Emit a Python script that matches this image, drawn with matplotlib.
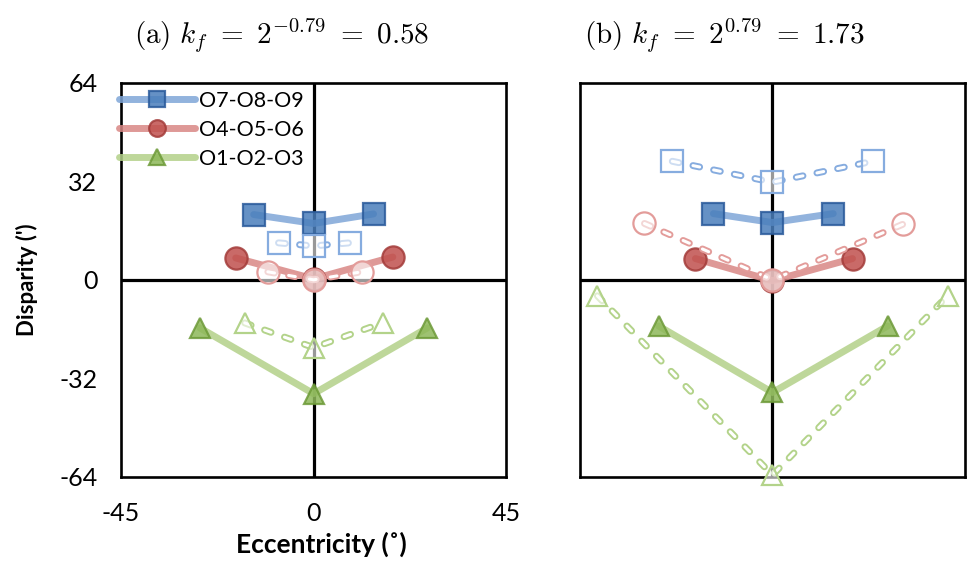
import matplotlib
matplotlib.use('Agg')
import matplotlib.pyplot as plt

plt.rcParams['font.family'] = ['Lato', 'DejaVu Sans']
plt.rcParams['mathtext.fontset'] = 'cm'
plt.rcParams['lines.scale_dashes'] = False
plt.rcParams['axes.unicode_minus'] = False

# eccentricity (deg) / disparity (arcmin)
# panel (a)
a_blue_x = [-14.0, 0.0, 14.0]
a_blue_y = [21.2, 18.3, 21.4]
a_blue_x2 = [-8.2, 0.0, 8.4]
a_blue_y2 = [12.0, 11.0, 12.0]
a_red_x = [-18.2, 0.0, 18.5]
a_red_y = [7.1, 0.3, 7.4]
a_red_x2 = [-10.7, 0.0, 11.2]
a_red_y2 = [2.6, 0.0, 2.6]
a_green_x = [-26.6, 0.0, 26.6]
a_green_y = [-15.6, -37.0, -15.6]
a_green_x2 = [-16.1, 0.0, 16.1]
a_green_y2 = [-14.0, -22.0, -14.0]

# panel (b)
b_blue_x = [-13.8, 0.0, 14.2]
b_blue_y = [21.5, 18.6, 21.5]
b_blue_x2 = [-23.4, 0.0, 23.4]
b_blue_y2 = [38.5, 31.7, 38.5]
b_red_x = [-18.0, 0.0, 18.7]
b_red_y = [6.9, -0.3, 6.9]
b_red_x2 = [-29.9, 0.0, 30.4]
b_red_y2 = [18.3, 0.0, 18.0]
b_green_x = [-26.6, 0.0, 26.9]
b_green_y = [-15.0, -36.6, -15.0]
b_green_x2 = [-40.9, 0.0, 40.9]
b_green_y2 = [-5.2, -63.4, -5.2]

labels = ['O7-O8-O9', 'O4-O5-O6', 'O1-O2-O3']
titles = [r'$\mathrm{(a)}\ k_f\ =\ 2^{-0.79}\ =\ 0.58$',
          r'$\mathrm{(b)}\ k_f\ =\ 2^{0.79}\ =\ 1.73$']

# colours: (marker face, marker edge, solid line, hollow edge)
blue = ('#4A7EBB', '#2B5B9B', '#7FA6D8', '#86ACDF')
red = ('#C0504D', '#A33B39', '#D98785', '#E39C9A')
green = ('#8DB859', '#6D9A38', '#B3D189', '#B3D38A')

DASH = (4.9, 10.3)


def solid(ax, x, y, col, marker, ms, label=None):
    ax.plot(x, y, color=col[2], lw=5, alpha=0.85, solid_capstyle='round',
            zorder=3, label=label, marker=marker, ms=ms,
            mfc=col[0], mec=col[1], mew=1.6, clip_on=False)


def dashed(ax, x, y, col, marker, ms):
    ax.plot(x, y, color=col[3], lw=5, dashes=DASH,
            dash_capstyle='round', zorder=4, clip_on=False)
    ax.plot(x, y, color='white', lw=2.2, dashes=DASH,
            dash_capstyle='round', zorder=4, clip_on=False)
    ax.plot(x, y, ls='none', marker=marker, ms=ms, mfc=(1, 1, 1, 0.6),
            mec=col[3], mew=1.6, zorder=5, clip_on=False)


fig = plt.figure(figsize=(9.68, 5.63), dpi=100)
ax1 = fig.add_axes([0.125, 0.153, 0.398, 0.700])
ax2 = fig.add_axes([0.599, 0.153, 0.398, 0.700])

for ax in (ax1, ax2):
    ax.set_xlim(-45, 45)
    ax.set_ylim(-64, 64)
    ax.axhline(0, color='black', lw=2.3, zorder=2)
    ax.axvline(0, color='black', lw=2.3, zorder=2)
    for s in ax.spines.values():
        s.set_linewidth(1.9)
    ax.tick_params(length=0, labelsize=18)
    ax.tick_params(axis='x', pad=18)
    ax.tick_params(axis='y', pad=17)

ax1.set_xticks([-45, 0, 45])
ax1.set_yticks([-64, -32, 0, 32, 64])
ax1.set_xlabel('Eccentricity (\u02da)', fontsize=19, fontweight='bold', va='center')
ax1.set_ylabel("Disparity (')", fontsize=16, fontweight='bold', va='center')
ax1.xaxis.set_label_coords(0.52, -0.17)
ax1.yaxis.set_label_coords(-0.245, 0.5)
ax2.set_xticks([])
ax2.set_yticks([])

# panel (a)
solid(ax1, a_blue_x, a_blue_y, blue, 's', 16, labels[0])
solid(ax1, a_red_x, a_red_y, red, 'o', 16, labels[1])
solid(ax1, a_green_x, a_green_y, green, '^', 15, labels[2])
dashed(ax1, a_blue_x2, a_blue_y2, blue, 's', 16)
dashed(ax1, a_red_x2, a_red_y2, red, 'o', 16)
dashed(ax1, a_green_x2, a_green_y2, green, '^', 15)

# panel (b)
solid(ax2, b_blue_x, b_blue_y, blue, 's', 16)
solid(ax2, b_red_x, b_red_y, red, 'o', 16)
solid(ax2, b_green_x, b_green_y, green, '^', 15)
dashed(ax2, b_blue_x2, b_blue_y2, blue, 's', 16)
dashed(ax2, b_red_x2, b_red_y2, red, 'o', 16)
dashed(ax2, b_green_x2, b_green_y2, green, '^', 15)

leg = ax1.legend(loc='upper left', frameon=False, fontsize=15.5,
                 handlelength=3.5, borderaxespad=0.0, borderpad=0.1,
                 labelspacing=0.42, handletextpad=0.2, markerscale=0.75,
                 bbox_to_anchor=(-0.01, 0.985))

fig.text(0.291, 0.938, titles[0], fontsize=21, ha='center', va='center')
fig.text(0.748, 0.938, titles[1], fontsize=21, ha='center', va='center')

fig.savefig('out.png', dpi=100)
